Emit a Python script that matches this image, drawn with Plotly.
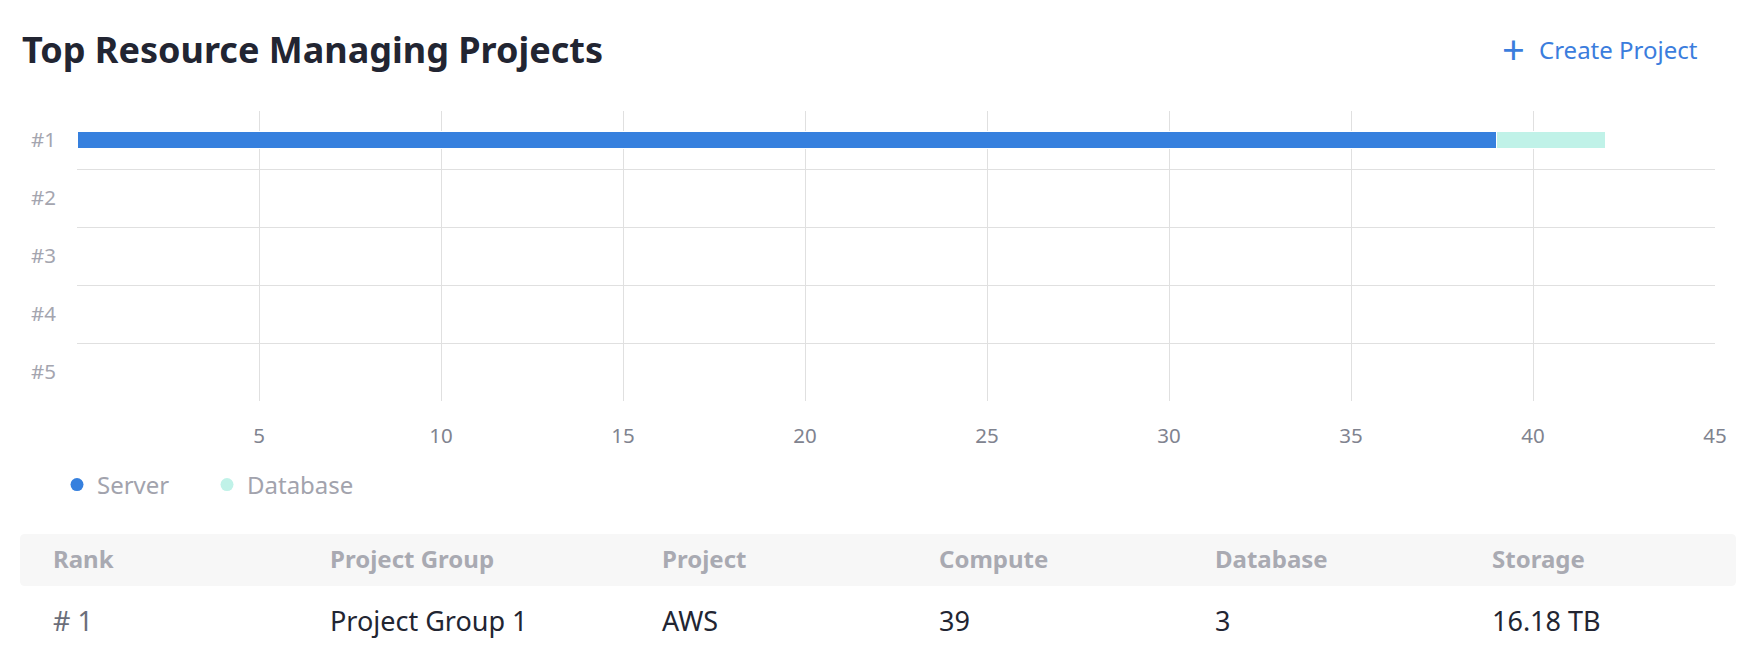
import plotly.graph_objects as go

W, H = 1750, 666

# ---------------- data ----------------
ranks = ["#1", "#2", "#3", "#4", "#5"]
bar_ranks = ["#1"]
server_counts = [39]
database_counts = [3]
x_ticks = [5, 10, 15, 20, 25, 30, 35, 40, 45]

table_headers = ["Rank", "Project Group", "Project", "Compute", "Database", "Storage"]
table_rank = ["# 1"]
table_group = ["Project Group 1"]
table_project = ["AWS"]
table_compute = ["39"]
table_database = ["3"]
table_storage = ["16.18 TB"]

title_text = "Top Resource Managing Projects"
action_text = "Create Project"

# ---------------- style ----------------
FONT = "Noto Sans"
SERVER = "#3680de"
DATABASE = "#c0f2e8"
GRID = "#e0e0e0"
BLUE = "#3b7ddd"


def px(x):
    return x / W


def py(y):
    return 1 - y / H


fig = go.Figure()

fig.add_trace(go.Bar(
    y=bar_ranks, x=server_counts, orientation="h", name="Server",
    marker=dict(color=SERVER, line=dict(color="white", width=1)),
    width=0.3, showlegend=False, hoverinfo="x+name",
))
fig.add_trace(go.Bar(
    y=bar_ranks, x=database_counts, orientation="h", name="Database",
    marker=dict(color=DATABASE, line=dict(color="white", width=1)),
    width=0.3, showlegend=False, hoverinfo="x+name",
))

# legend entries (round markers)
fig.add_trace(go.Scatter(
    x=[None], y=[None], mode="markers", name="Server",
    marker=dict(color=SERVER, size=13), legend="legend",
))
fig.add_trace(go.Scatter(
    x=[None], y=[None], mode="markers", name="Database",
    marker=dict(color=DATABASE, size=13), legend="legend2",
))

legend_font = dict(family=FONT, size=24, color="#a2a3ad")

fig.update_layout(
    width=W, height=H,
    margin=dict(l=0, r=0, t=0, b=0, autoexpand=False),
    paper_bgcolor="white", plot_bgcolor="white",
    barmode="stack",
    font=dict(family=FONT),
    title=dict(
        text=title_text, x=px(22), xanchor="left", xref="paper",
        y=py(50), yanchor="middle", yref="container",
        font=dict(family=FONT, size=36, weight=700, color="#222532"),
    ),
    xaxis=dict(
        domain=[px(77), px(1715)], range=[0, 45], tickvals=x_ticks,
        showgrid=True, gridcolor=GRID, gridwidth=1, zeroline=False,
        showline=False, ticks="", ticklabelstandoff=20, automargin=False,
        tickfont=dict(family=FONT, size=20.5, color="#80838f"),
        fixedrange=True,
    ),
    yaxis=dict(
        domain=[py(401), py(111)], type="category",
        categoryorder="array", categoryarray=ranks,
        range=[4.5, -0.5], tickson="boundaries",
        showgrid=True, gridcolor=GRID, gridwidth=1, zeroline=False,
        showline=False, ticks="", ticklabelstandoff=20, automargin=False,
        tickfont=dict(family=FONT, size=20.5, color="#a4a5af"),
        fixedrange=True,
    ),
    legend=dict(
        orientation="h", x=px(57), xanchor="left", y=py(485), yanchor="middle",
        font=legend_font, bgcolor="rgba(0,0,0,0)", borderwidth=0,
    ),
    legend2=dict(
        orientation="h", x=px(207), xanchor="left", y=py(485), yanchor="middle",
        font=legend_font, bgcolor="rgba(0,0,0,0)", borderwidth=0,
    ),
)

# ---------------- header action ----------------
fig.add_annotation(
    text="+", x=px(1513.5), y=py(49), xref="paper", yref="paper",
    xanchor="center", yanchor="middle", showarrow=False,
    font=dict(family=FONT, size=40, color=BLUE),
)
fig.add_annotation(
    text=action_text, x=px(1537), y=py(50), xref="paper", yref="paper",
    xanchor="left", yanchor="middle", showarrow=False,
    font=dict(family=FONT, size=24, color=BLUE),
)

# ---------------- table ----------------
x0, x1, y0, y1, r = 20, 1736, 534, 586, 5
rx, ry = r / W, r / H
path = (
    f"M {px(x0)+rx},{py(y0)} L {px(x1)-rx},{py(y0)} "
    f"Q {px(x1)},{py(y0)} {px(x1)},{py(y0)-ry} "
    f"L {px(x1)},{py(y1)+ry} Q {px(x1)},{py(y1)} {px(x1)-rx},{py(y1)} "
    f"L {px(x0)+rx},{py(y1)} Q {px(x0)},{py(y1)} {px(x0)},{py(y1)+ry} "
    f"L {px(x0)},{py(y0)-ry} Q {px(x0)},{py(y0)} {px(x0)+rx},{py(y0)} Z"
)
fig.add_shape(type="path", path=path, xref="paper", yref="paper",
              fillcolor="#f7f7f7", line=dict(width=0), layer="below")

col_x = [51, 328, 660, 937, 1213, 1490]
for cx, h in zip(col_x, table_headers):
    fig.add_annotation(
        text=h, x=px(cx), y=py(558), xref="paper", yref="paper",
        xanchor="left", yanchor="middle", showarrow=False,
        font=dict(family=FONT, size=24, weight=700, color="#a9aab2"),
    )

columns = [table_rank, table_group, table_project, table_compute,
           table_database, table_storage]
row_colors = ["#6b6e7a", "#222532", "#222532", "#222532", "#222532", "#222532"]
for cx, col, colr in zip(col_x, columns, row_colors):
    for i, val in enumerate(col):
        fig.add_annotation(
            text=val, x=px(cx), y=py(620 + i * 60), xref="paper", yref="paper",
            xanchor="left", yanchor="middle", showarrow=False,
            font=dict(family=FONT, size=27, color=colr),
        )

css_js = (
    "var s=document.createElement('style');"
    "s.textContent='html,body{margin:0!important;padding:0!important;"
    "overflow:hidden!important;width:1750px;height:666px;}"
    ".plotly-graph-div{display:block;}';"
    "document.head.appendChild(s);"
)

fig.write_html(
    "out.html",
    config={"displayModeBar": False},
    post_script=css_js,
)
